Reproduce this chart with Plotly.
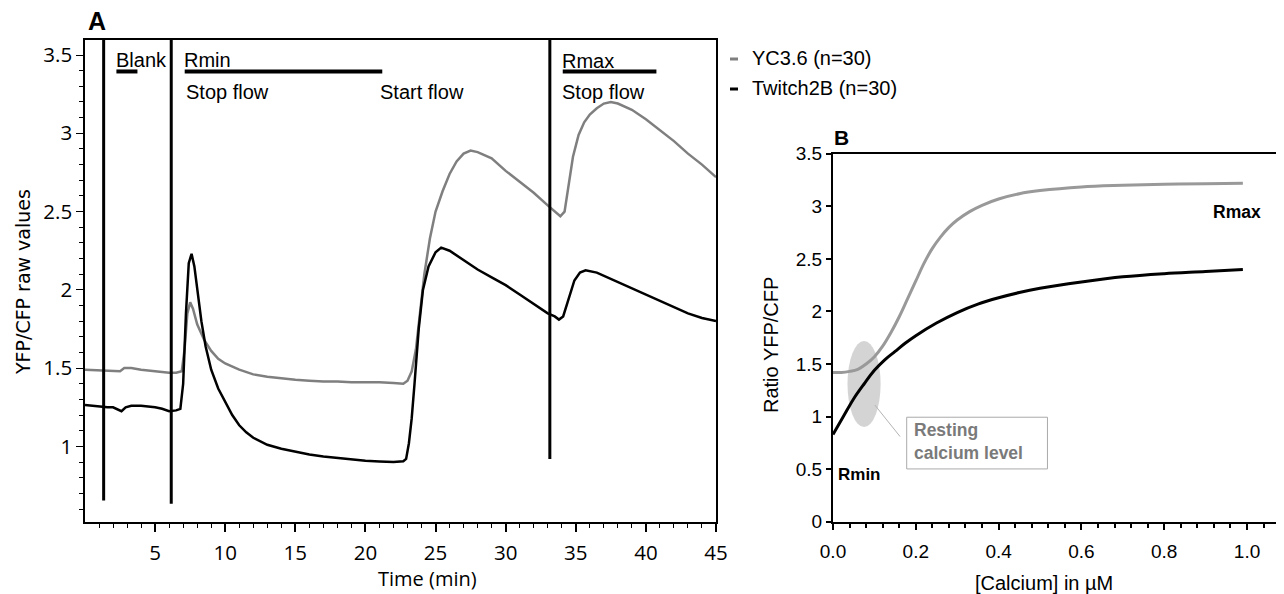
import plotly.graph_objects as go

# The page body has an 8 px margin; the figure is placed at (8, 8) in the window.
OFF = 8
W, H = 1276, 586


def px(x):
    return (x - OFF) / W


def py(y):
    return 1 - (y - OFF) / H


# ---------------- Panel A data ----------------
yc_t = [0, 1, 2, 2.5, 2.8, 3.3, 4, 5, 6, 6.5, 6.9, 7.1, 7.3, 7.5, 7.7, 8.0, 8.5, 9.0, 9.5, 10,
        11, 12, 13, 14, 15, 16, 17, 18, 19, 20, 21, 22, 22.7, 23.0, 23.3, 23.6, 24.0, 24.2, 24.6,
        25.0, 25.5, 26.0, 26.5, 27.0, 27.5, 28.0, 29, 30, 31, 32, 33, 33.5, 33.9, 34.2, 34.5,
        34.8, 35.2, 35.6, 36, 36.5, 37, 37.5, 38, 39, 40, 41, 42, 43, 44, 45]
yc_y = [1.49, 1.485, 1.48, 1.48, 1.50, 1.50, 1.49, 1.48, 1.47, 1.47, 1.48, 1.62, 1.85, 1.92,
        1.88, 1.78, 1.68, 1.61, 1.56, 1.53, 1.49, 1.46, 1.445, 1.435, 1.425, 1.42, 1.415, 1.415,
        1.41, 1.41, 1.41, 1.405, 1.40, 1.42, 1.48, 1.62, 1.95, 2.10, 2.33, 2.50, 2.63, 2.74, 2.82,
        2.87, 2.89, 2.88, 2.84, 2.76, 2.69, 2.62, 2.54, 2.50, 2.47, 2.50, 2.68, 2.85, 2.99, 3.07,
        3.12, 3.16, 3.19, 3.20, 3.19, 3.15, 3.09, 3.02, 2.95, 2.87, 2.80, 2.72]

tw_t = [0, 0.5, 1.0, 1.6, 2.0, 2.4, 2.6, 2.9, 3.3, 4, 4.5, 5, 5.5, 6, 6.5, 6.8, 7.0, 7.2, 7.4,
        7.6, 7.8, 8.0, 8.3, 8.6, 9.0, 9.5, 10, 10.5, 11, 11.5, 12, 13, 14, 15, 16, 17, 18, 19,
        20, 21, 22, 22.7, 22.9, 23.1, 23.3, 23.5, 23.8, 24.1, 24.5, 25.0, 25.4, 26, 27, 28, 29,
        30, 31, 32, 33, 33.5, 33.8, 34.1, 34.5, 34.9, 35.3, 35.7, 36.5, 37, 38, 39, 40, 41, 42,
        43, 44, 45]
tw_y = [1.265, 1.26, 1.255, 1.25, 1.25, 1.235, 1.225, 1.25, 1.26, 1.26, 1.255, 1.25, 1.24,
        1.225, 1.23, 1.24, 1.40, 1.85, 2.17, 2.23, 2.15, 2.00, 1.80, 1.64, 1.49, 1.37, 1.28,
        1.20, 1.135, 1.09, 1.055, 1.01, 0.985, 0.965, 0.948, 0.935, 0.925, 0.915, 0.908, 0.904,
        0.90, 0.905, 0.92, 1.02, 1.18, 1.40, 1.75, 2.00, 2.15, 2.24, 2.27, 2.25, 2.19, 2.13,
        2.08, 2.03, 1.97, 1.91, 1.85, 1.83, 1.81, 1.83, 1.95, 2.06, 2.11, 2.125, 2.11, 2.09,
        2.05, 2.01, 1.97, 1.93, 1.89, 1.85, 1.82, 1.80]

# vertical artefact spikes (time, lowest value)
spike_t = [1.33, 6.15, 33.15]
spike_low = [0.654, 0.633, 0.919]
spike_high = 4.0

# protocol bars
bar_labels = ["Blank", "Rmin", "Rmax"]
bar_start = [2.24, 7.11, 34.07]
bar_end = [3.74, 21.2, 40.75]
bar_level = 3.395

# ---------------- Panel B data ----------------
ca = [0.0, 0.02, 0.04, 0.06, 0.08, 0.10, 0.12, 0.14, 0.16, 0.18, 0.20, 0.22, 0.24, 0.26,
      0.28, 0.30, 0.33, 0.36, 0.40, 0.45, 0.50, 0.60, 0.70, 0.80, 0.90, 0.99]
yc36_ratio = [1.42, 1.42, 1.43, 1.45, 1.50, 1.57, 1.67, 1.80, 1.95, 2.12, 2.29, 2.46, 2.60,
              2.71, 2.80, 2.87, 2.95, 3.01, 3.07, 3.12, 3.15, 3.185, 3.20, 3.21, 3.215, 3.22]
ca2 = [0.0, 0.025, 0.05, 0.075, 0.10, 0.125, 0.15, 0.175, 0.20, 0.25, 0.30, 0.35, 0.40, 0.45,
       0.50, 0.60, 0.70, 0.80, 0.90, 0.99]
tw2b_ratio = [0.83, 1.0, 1.17, 1.31, 1.44, 1.54, 1.62, 1.70, 1.77, 1.89, 1.99, 2.07, 2.13,
              2.18, 2.22, 2.28, 2.33, 2.36, 2.38, 2.40]

GRAY_A = "#7f7f7f"
GRAY_B = "#999999"

fig = go.Figure()

# ---- Panel A traces
fig.add_trace(go.Scatter(x=yc_t, y=yc_y, mode="lines", line=dict(color=GRAY_A, width=2.5),
                         xaxis="x", yaxis="y", showlegend=False))
fig.add_trace(go.Scatter(x=tw_t, y=tw_y, mode="lines", line=dict(color="black", width=2.5),
                         xaxis="x", yaxis="y", showlegend=False))
for t, lo in zip(spike_t, spike_low):
    fig.add_trace(go.Scatter(x=[t, t], y=[spike_high, lo], mode="lines",
                             line=dict(color="black", width=3), xaxis="x", yaxis="y",
                             showlegend=False))
for s, e in zip(bar_start, bar_end):
    fig.add_trace(go.Scatter(x=[s, e], y=[bar_level, bar_level], mode="lines",
                             line=dict(color="black", width=4), xaxis="x", yaxis="y",
                             showlegend=False))

# ---- Panel B traces
fig.add_trace(go.Scatter(x=ca, y=yc36_ratio, mode="lines", line=dict(color=GRAY_B, width=3, shape="spline"),
                         xaxis="x2", yaxis="y2", showlegend=False))
fig.add_trace(go.Scatter(x=ca2, y=tw2b_ratio, mode="lines", line=dict(color="black", width=3, shape="spline"),
                         xaxis="x2", yaxis="y2", showlegend=False))

AF = "Liberation Sans, Arial, sans-serif"
OF = "Open Sans, sans-serif"

annotations = []
# Panel A texts
a_txt = [("Blank", 2.1, 3.468), ("Rmin", 6.95, 3.468), ("Stop flow", 7.05, 3.265),
         ("Start flow", 20.9, 3.265), ("Rmax", 33.9, 3.463), ("Stop flow", 33.9, 3.265)]
for txt, x, y in a_txt:
    annotations.append(dict(text=txt, x=x, y=y, xref="x", yref="y", xanchor="left",
                            yanchor="middle", showarrow=False,
                            font=dict(family=AF, size=20, color="black")))


def pa(text, x, y, size, family=AF, xanchor="center", angle=0, color="black"):
    return dict(text=text, x=px(x), y=py(y), xref="paper", yref="paper", xanchor=xanchor,
                yanchor="middle", textangle=angle, showarrow=False,
                font=dict(family=family, size=size, color=color))


annotations += [
    pa("<b>A</b>", 86, 21, 25, xanchor="left"),
    pa("<b>B</b>", 832, 137, 21, xanchor="left"),
    pa("YFP/CFP raw values", 23, 282, 19, family="DejaVu Sans, sans-serif", angle=-90),
    pa("Time (min)", 427, 578, 20, family=OF),
    pa("YC3.6 (n=30)", 750, 58, 20, xanchor="left"),
    pa("Twitch2B (n=30)", 750, 88, 20, xanchor="left"),
    pa("Ratio YFP/CFP", 771, 345, 20, angle=-90),
    pa("[Calcium] in µM", 1044, 583, 20),
    dict(text="<b>Rmax</b>", x=0.975, y=2.947, xref="x2", yref="y2", showarrow=False,
         xanchor="center", yanchor="middle", font=dict(family=AF, size=17.5, color="black")),
    dict(text="<b>Rmin</b>", x=0.008, y=0.445, xref="x2", yref="y2", xanchor="left",
         yanchor="middle", showarrow=False, font=dict(family=AF, size=17, color="black")),
    dict(text="<b>Resting<br>calcium level</b>", x=0.192, y=0.76, xref="x2", yref="y2",
         xanchor="left", yanchor="middle", align="left", showarrow=False,
         font=dict(family=AF, size=17.5, color="#7a7a7a")),
]

shapes = [
    # legend keys
    dict(type="line", xref="paper", yref="paper", x0=px(730), x1=px(738), y0=py(59), y1=py(59),
         line=dict(color=GRAY_A, width=3)),
    dict(type="line", xref="paper", yref="paper", x0=px(730), x1=px(738), y0=py(89), y1=py(89),
         line=dict(color="black", width=3)),
    # resting calcium ellipse
    dict(type="circle", xref="x2", yref="y2", x0=0.035, x1=0.115, y0=0.90, y1=1.72,
         fillcolor="#d4d4d4", line=dict(width=0), layer="below"),
    # leader line
    dict(type="line", xref="x2", yref="y2", x0=0.101, y0=1.11, x1=0.162, y1=0.81,
         line=dict(color="#b4b4b4", width=1)),
    # annotation box
    dict(type="rect", xref="x2", yref="y2", x0=0.178, x1=0.518, y0=0.502, y1=0.994,
         line=dict(color="#aaaaaa", width=1), fillcolor="rgba(0,0,0,0)"),
    # right border of B (light)
    dict(type="line", xref="paper", yref="paper", x0=px(1281.5), x1=px(1281.5), y0=py(521.7),
         y1=py(153.8), line=dict(color="#d0d0d0", width=1)),
]

fig.update_layout(
    width=W, height=H,
    margin=dict(l=0, r=0, t=0, b=0, autoexpand=False),
    paper_bgcolor="white", plot_bgcolor="white",
    showlegend=False,
    annotations=annotations,
    shapes=shapes,
    xaxis=dict(domain=[px(85), px(716)], range=[0, 45], anchor="y", automargin=False,
               tickmode="array", tickvals=[5, 10, 15, 20, 25, 30, 35, 40, 45],
               ticks="outside", ticklen=8, tickwidth=1.5, tickcolor="black",
               minor=dict(tickmode="array", tickvals=[v for v in range(1, 45) if v % 5],
                          ticks="outside", ticklen=4, tickwidth=1.2, tickcolor="black"),
               showline=True, linecolor="black", linewidth=2, mirror=True,
               showgrid=False, zeroline=False, ticklabelstandoff=3,
               tickfont=dict(family=OF, size=20.5, color="black")),
    yaxis=dict(domain=[py(522), py(40)], range=[0.517, 3.596], anchor="x", automargin=False,
               tickmode="array", tickvals=[1, 1.5, 2, 2.5, 3, 3.5],
               ticktext=["1", "1.5", "2", "2.5", "3", "3.5"],
               ticks="outside", ticklen=7, tickwidth=1.2, tickcolor="black",
               minor=dict(tickmode="array",
                          tickvals=[round(0.6 + 0.1 * i, 1) for i in range(30)],
                          ticks="outside", ticklen=4, tickwidth=1, tickcolor="black"),
               showline=True, linecolor="black", linewidth=1.5, mirror=True,
               showgrid=False, zeroline=False,
               tickfont=dict(family=OF, size=20.5, color="black")),
    xaxis2=dict(domain=[px(833), px(1282)], range=[0, 1.0845], anchor="y2", automargin=False,
                tickmode="array", tickvals=[0, 0.2, 0.4, 0.6, 0.8, 1.0],
                ticktext=["0.0", "0.2", "0.4", "0.6", "0.8", "1.0"],
                ticks="outside", ticklen=6, tickwidth=1.5, tickcolor="black",
                minor=dict(tickmode="array",
                           tickvals=[round(0.04 * i, 2) for i in range(1, 28) if i % 5],
                           ticks="outside", ticklen=4, tickwidth=1.5, tickcolor="black"),
                showline=True, linecolor="black", linewidth=2, mirror=True,
                showgrid=False, zeroline=False, ticklabelstandoff=5,
                tickfont=dict(family=AF, size=19, color="black")),
    yaxis2=dict(domain=[py(521.7), py(153.8)], range=[0, 3.5], anchor="x2", automargin=False,
                tickmode="array", tickvals=[0, 0.5, 1, 1.5, 2, 2.5, 3, 3.5],
                ticktext=["0", "0.5", "1", "1.5", "2", "2.5", "3", "3.5"],
                ticks="outside", ticklen=5, tickwidth=1.5, tickcolor="black",
                showline=True, linecolor="black", linewidth=2, mirror=False,
                showgrid=False, zeroline=False,
                tickfont=dict(family=AF, size=19, color="black")),
)

fig.write_html("out.html")
